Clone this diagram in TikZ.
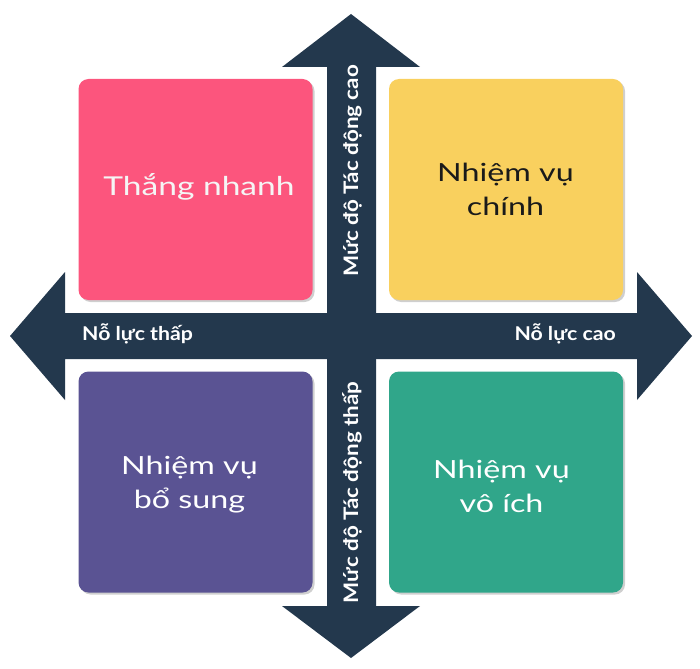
\documentclass[tikz,border=0pt]{standalone}
\usepackage{fontspec}
\setmainfont{Lato}
\newfontfamily\quadfont[FakeStretch=1.29]{Lato}
\newfontfamily\axisfont[FakeStretch=1.12]{Lato}
\usepackage{tikz}
\usetikzlibrary{calc}
\definecolor{navy}{HTML}{23384D}
\definecolor{fastpink}{HTML}{FC557D}
\definecolor{mainyellow}{HTML}{F9D05E}
\definecolor{extrapurple}{HTML}{5A5393}
\definecolor{wastegreen}{HTML}{30A68A}
\definecolor{shade}{HTML}{CFCFCF}
\definecolor{ink}{HTML}{1A1A1A}
\tikzset{
  axis/.style={fill=navy, draw=none},
  quad/.style={rounded corners=10pt, minimum width=234pt, minimum height=221pt, inner sep=0pt},
  lab/.style={font=\quadfont\fontsize{25}{34}\selectfont, align=center, anchor=base, inner sep=0pt},
  big/.style={font=\quadfont\fontsize{26}{34}\selectfont, anchor=base, inner sep=0pt},
  axl/.style={text=white, font=\axisfont\bfseries\fontsize{19}{19}\selectfont, inner sep=0pt},
  axv/.style={axl, font=\axisfont\bfseries\fontsize{20}{20}\selectfont, anchor=base, rotate=90},
}

\begin{document}
\begin{tikzpicture}[x=1pt,y=-1pt]
  \useasboundingbox (0,0) rectangle (700,668);
  \coordinate (QA) at (195.5,189.5);
  \coordinate (QB) at (506,189.5);
  \coordinate (QC) at (195.5,482);
  \coordinate (QD) at (506,482);

  \fill[axis] (10,336) -- (65,272) -- (65,313) -- (637,313) -- (637,272) -- (692,336)
    -- (637,400) -- (637,359) -- (65,359) -- (65,400) -- cycle;
  \fill[axis] (351,14) -- (420,67) -- (376,67) -- (376,606) -- (420,606) -- (351,658)
    -- (282,606) -- (327,606) -- (327,67) -- (282,67) -- cycle;

  \foreach \q in {QA,QB,QC,QD}
    \node[quad, fill=shade] (\q-sh) at ($(\q)+(2,2)$) {};
  \node[quad, fill=fastpink] (fast) at (QA) {};
  \node[quad, fill=mainyellow] (main) at (QB) {};
  \node[quad, fill=extrapurple] (extra) at (QC) {};
  \node[quad, fill=wastegreen] (waste) at (QD) {};

  \node[big, text=white!96!black] (fast-t) at (199,196) {Thắng nhanh};
  \node[lab, text=ink] (main-t) at (505.5,215) {Nhiệm vụ\\chính};
  \node[lab, text=white] (extra-t) at (189.5,508) {Nhiệm vụ\\bổ sung};
  \node[lab, text=white] (waste-t) at (501.5,512) {Nhiệm vụ\\vô ích};

  \node[axl, anchor=base west] (low) at (82,340) {Nỗ lực thấp};
  \node[axl, anchor=base east] (high) at (616,340) {Nỗ lực cao};
  \node[axv] (up) at (358,171) {Mức độ Tác động cao};
  \node[axv] (down) at (358,492.5) {Mức độ Tác động thấp};
\end{tikzpicture}
\end{document}
